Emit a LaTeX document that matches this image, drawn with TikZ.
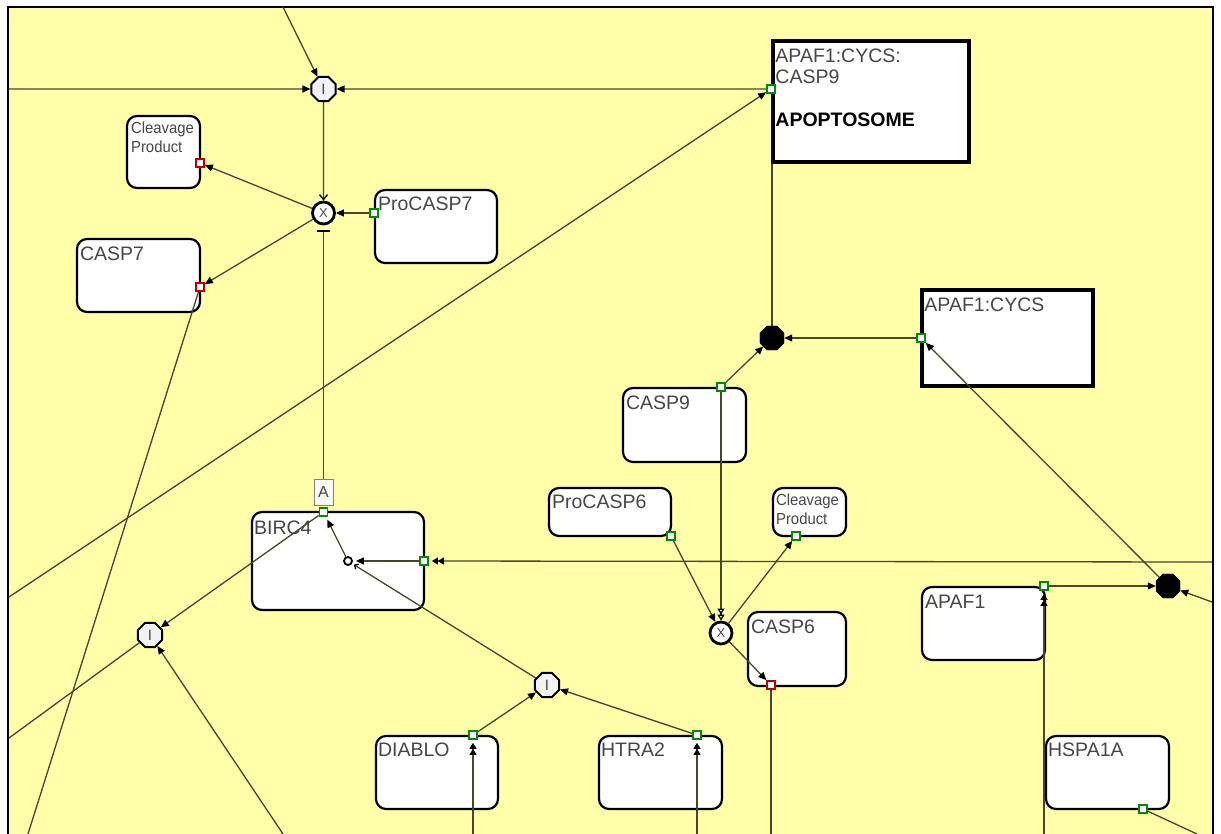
\documentclass[tikz,border=0pt]{standalone}
\usepackage{fontspec}
\setmainfont{Liberation Sans}
\newfontfamily\narrowsans[FakeStretch=0.93]{Liberation Sans}
\usetikzlibrary{arrows.meta,shapes.geometric}

\definecolor{pad}{RGB}{255,255,170}
\definecolor{wirecol}{RGB}{70,70,45}
\definecolor{labelgray}{RGB}{70,70,70}
\definecolor{portgreen}{RGB}{0,140,0}
\definecolor{portred}{RGB}{190,0,0}

\pgfdeclarelayer{edges}
\pgfdeclarelayer{fg}
\pgfsetlayers{main,edges,fg}

\tikzset{
  entity/.style 2 args={rectangle, draw=black, line width=2.2pt, fill=white,
    rounded corners=10pt, inner sep=0pt, minimum width=#1, minimum height=#2},
  complexbox/.style 2 args={rectangle, draw=black, line width=3.5pt, fill=white,
    inner sep=0pt, minimum width=#1, minimum height=#2},
  tag/.style={anchor=north west, inner sep=0pt, text=labelgray, align=left,
    font=\fontsize{19.5}{21.5}\selectfont},
  smalltag/.style={tag, font=\narrowsans\fontsize{16}{19.3}\selectfont},
  port/.style={rectangle, draw=#1, fill=white, line width=1.7pt,
    minimum size=8pt, inner sep=0pt},
  inode/.style={regular polygon, regular polygon sides=8, minimum size=26pt,
    draw=black, line width=2pt, fill=white!90!gray, inner sep=0pt,
    text=labelgray, font=\fontsize{15}{15}\selectfont},
  xnode/.style={circle, minimum size=22pt, draw=black, line width=2.8pt,
    fill=white, inner sep=0pt, text=labelgray, font=\fontsize{13}{13}\selectfont},
  bnode/.style={regular polygon, regular polygon sides=8, minimum size=26pt,
    draw=black, fill=black, inner sep=0pt},
  knot/.style={circle, minimum size=8pt, draw=black, line width=1.8pt,
    fill=white, inner sep=0pt},
  abox/.style={rectangle, draw=gray, line width=1pt, fill=white!96!gray,
    minimum width=19pt, minimum height=26pt, inner sep=0pt, text=labelgray,
    font=\fontsize{16}{16}\selectfont},
  link/.style={draw=wirecol, line width=1.3pt},
  fwd/.style={-{Triangle[length=8pt,width=7pt,color=black]}},
  dbl/.style={-{Triangle[length=6pt,width=7pt,color=black]Triangle[length=6pt,width=7pt,color=black]},
    shorten >=3pt},
  opendbl/.style={-{Triangle[open,length=6pt,width=7pt,color=black,fill=white]Triangle[open,length=6pt,width=7pt,color=black,fill=white]}},
  chev/.style={-{Straight Barb[length=5pt,width=8pt,color=black]}},
  blocked/.style={-{Bar[width=13pt,color=black]}, shorten >=5pt},
  smallbarb/.style={-{Straight Barb[length=3pt,width=6pt,color=black]}, shorten >=2pt},
}

\begin{document}
\begin{tikzpicture}[x=1pt,y=-1pt]
\useasboundingbox (0,0) rectangle (1221,834);
\clip (0,0) rectangle (1221,834);

% canvas and frame
\fill[white] (0,0) rectangle (1221,834);
\fill[pad] (8,7) rectangle (1213,840);
\draw[line width=2pt] (8,840) -- (8,7) -- (1213,7) -- (1213,840);

% entity boxes
\node[entity={73}{72}]   (cp1)      at (163.5,152)  {};
\node[entity={123}{73}]  (casp7)    at (138.5,275.5) {};
\node[entity={122}{73}]  (procasp7) at (436,226.5)  {};
\node[complexbox={196}{121}] (apopt) at (871,101.5) {};
\node[complexbox={171}{96}]  (apafcycs) at (1007.5,338) {};
\node[entity={123}{74}]  (casp9)    at (684.5,425)  {};
\node[entity={122}{48}]  (procasp6) at (610,512)    {};
\node[entity={73}{48}]   (cp2)      at (809.5,512)  {};
\node[entity={172}{98}]  (birc4)    at (338,561)    {};
\node[entity={98}{74}]   (casp6)    at (797,649)    {};
\node[entity={123}{73}]  (apaf1)    at (983.5,623.5) {};
\node[entity={122}{73}]  (diablo)   at (437,772.5)  {};
\node[entity={123}{73}]  (htra2)    at (660.5,772.5) {};
\node[entity={123}{73}]  (hspa1a)   at (1107.5,772.5) {};

% box labels
\node[smalltag] (cp1-t)      at ([shift={(5,7)}]cp1.north west) {Cleavage\\Product};
\node[tag]      (casp7-t)    at ([shift={(4,9)}]casp7.north west) {CASP7};
\node[tag]      (procasp7-t) at ([shift={(4,8)}]procasp7.north west) {ProCASP7};
\node[tag]      (apopt-t)    at ([shift={(4,9)}]apopt.north west)
  {APAF1:CYCS:\\CASP9\\[21.5pt]{\color{black}\bfseries APOPTOSOME}};
\node[tag]      (apafcycs-t) at ([shift={(4,9)}]apafcycs.north west) {APAF1:CYCS};
\node[tag]      (casp9-t)    at ([shift={(4,9)}]casp9.north west) {CASP9};
\node[tag]      (procasp6-t) at ([shift={(4,8)}]procasp6.north west) {ProCASP6};
\node[smalltag] (cp2-t)      at ([shift={(4,7)}]cp2.north west) {Cleavage\\Product};
\node[tag]      (birc4-t)    at ([shift={(3,10)}]birc4.north west) {BIRC4};
\node[tag]      (casp6-t)    at ([shift={(4,9)}]casp6.north west) {CASP6};
\node[tag]      (apaf1-t)    at ([shift={(4,9)}]apaf1.north west) {APAF1};
\node[tag]      (diablo-t)   at ([shift={(3,8)}]diablo.north west) {DIABLO};
\node[tag]      (htra2-t)    at ([shift={(3,8)}]htra2.north west) {HTRA2};
\node[tag]      (hspa1a-t)   at ([shift={(3,8)}]hspa1a.north west) {HSPA1A};

\begin{pgfonlayer}{fg}
  % ports
  \node[port=portred]   (p_cp1)      at (200,163)   {};
  \node[port=portred]   (p_c7)       at (200,287)   {};
  \node[port=portgreen] (p_pc7)      at (374,213)   {};
  \node[port=portgreen] (p_apo)      at (771,89)    {};
  \node[port=portgreen] (p_apafcycs) at (921,338)   {};
  \node[port=portgreen] (p_c9)       at (721,387)   {};
  \node[port=portgreen] (p_pc6)      at (671,536)   {};
  \node[port=portgreen] (p_cp2)      at (796,536)   {};
  \node[port=portred]   (p_c6)       at (771,685)   {};
  \node[port=portgreen] (p_btop)     at (323.5,512) {};
  \node[port=portgreen] (p_bright)   at (424,561)   {};
  \node[port=portgreen] (p_dia)      at (473,735)   {};
  \node[port=portgreen] (p_htr)      at (697,735)   {};
  \node[port=portgreen] (p_apaf1)    at (1044,586)  {};
  \node[port=portgreen] (p_hsp)      at (1143,809)  {};

  % process and association nodes
  \node[inode] (i1)   at (323.5,89)  {I};
  \node[xnode] (x1)   at (323.5,213) {X};
  \node[bnode] (bc1)  at (772,338)   {};
  \node[bnode] (bc2)  at (1168,586)  {};
  \node[xnode] (x2)   at (721,633)   {X};
  \node[knot]  (knot) at (348,561)   {};
  \node[inode] (i3)   at (150,635)   {I};
  \node[inode] (i2)   at (547,685)   {I};
  \node[abox]  (abox) at (323.5,492) {A};
\end{pgfonlayer}

% free ends at the edge of the canvas
\coordinate (topin)     at (283,7);
\coordinate (leftin)    at (9,89);
\coordinate (leftlong)  at (9,597);
\coordinate (c7out)     at (28,834);
\coordinate (i3left)    at (9,738);
\coordinate (i3bot)     at (283,834);
\coordinate (diabot)    at (473,834);
\coordinate (htrbot)    at (697,834);
\coordinate (c6out)     at (771,834);
\coordinate (apafbot)   at (1044,834);
\coordinate (hspout)    at (1197,834);
\coordinate (rightbc)   at (1212,602);
\coordinate (rightbirc) at (1212,562);

\begin{pgfonlayer}{edges}
  % CASP7 cleavage
  \draw[link,fwd] (topin) -- (i1);
  \draw[link,fwd] (leftin) -- (i1);
  \draw[link,fwd] (p_apo) -- (i1);
  \draw[link,chev] (i1) -- (x1);
  \draw[link,blocked] (abox) -- (x1);
  \draw[link,fwd] (p_pc7) -- (x1);
  \draw[link,fwd] (x1) -- (p_cp1);
  \draw[link,fwd] (x1) -- (p_c7);
  \draw[link] (p_c7) -- (c7out);

  % apoptosome assembly
  \draw[link,fwd] (leftlong) -- (p_apo);
  \draw[link] (bc1) -- (bc1 |- apopt.south);
  \draw[link,fwd] (p_apafcycs) -- (bc1);
  \draw[link,fwd] (p_c9) -- (bc1);
  \draw[link,fwd] (bc2) -- (p_apafcycs);
  \draw[link,fwd] (p_apaf1) -- (bc2);
  \draw[link,fwd] (rightbc) -- (bc2);
  \draw[link,dbl] (apafbot) -- (p_apaf1);
  \draw[link] (p_hsp) -- (hspout);

  % CASP6 cleavage
  \draw[link,opendbl] (p_c9) -- (x2);
  \draw[link,fwd] (p_pc6) -- (x2);
  \draw[link,fwd] (x2) -- (p_cp2);
  \draw[link,fwd] (x2) -- (p_c6);
  \draw[link] (p_c6) -- (c6out);

  % BIRC4 inhibition
  \draw[link,dbl] (rightbirc) -- (p_bright);
  \draw[link,fwd,shorten >=3pt] (p_bright) -- (knot);
  \draw[link,fwd,shorten >=3pt] (knot) -- (p_btop);
  \draw[link,smallbarb] (i2) -- (knot);
  \draw[link,fwd] (p_btop) -- (i3);
  \draw[link] (i3) -- (i3left);
  \draw[link,fwd] (i3bot) -- (i3);
  \draw[link,fwd] (p_dia) -- (i2);
  \draw[link,fwd] (p_htr) -- (i2);
  \draw[link,dbl] (diabot) -- (p_dia);
  \draw[link,dbl] (htrbot) -- (p_htr);
\end{pgfonlayer}
\end{tikzpicture}
\end{document}
